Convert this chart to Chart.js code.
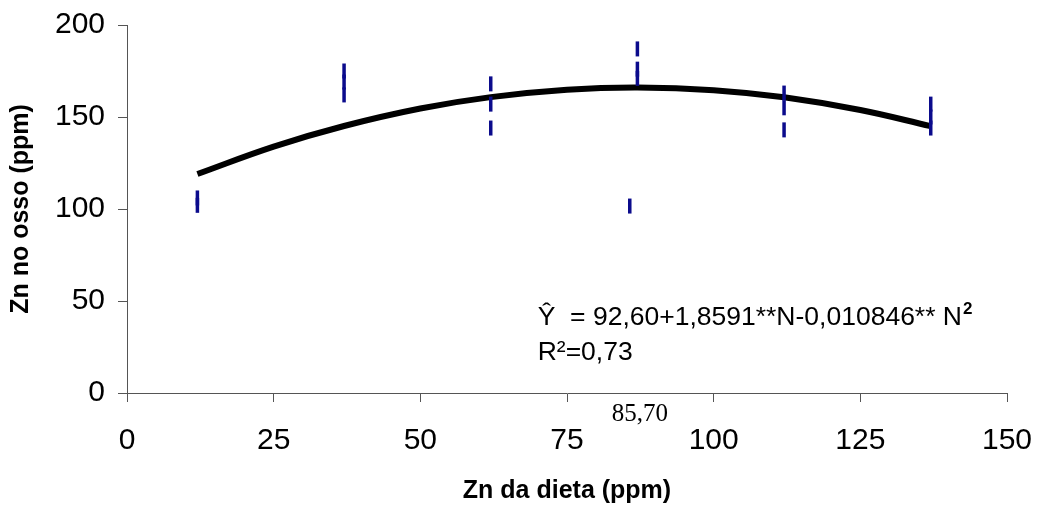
<!DOCTYPE html>
<html>
<head>
    <title>Zn no osso</title>
    <meta charset="UTF-8">
    <script src="https://cdn.jsdelivr.net/npm/chart.js@4.4.1/dist/chart.umd.min.js"></script>
    <style>
        body { margin: 0; background: #fff; }
    </style>
</head>
<body>
    <canvas id="myChart" width="1044" height="506"></canvas>

    <script>
        // observed values (each dash = one observation)
        var obsX = [12, 12, 37, 37, 37, 62, 62, 62, 85.7, 87, 87, 87, 112, 112, 112, 137, 137, 137];
        var obsY = [106, 102, 175, 169, 162, 168, 157, 144, 101.6, 187, 176, 171, 163, 155, 143, 157, 150, 144];

        // fitted curve
        var curveX = [12, 25, 37, 50, 62, 75, 87, 100, 112, 125, 137];
        var curveY = [119, 133.9, 145.1, 154.6, 160.8, 164.8, 166, 164.6, 160.7, 153.8, 145];

        var xTicks = [0, 25, 50, 75, 100, 125, 150];
        var yTicks = [0, 50, 100, 150, 200];

        var equationText = 'Ŷ  = 92,60+1,8591**N-0,010846** N';
        var equationSup = '2';
        var r2Text = 'R²=0,73';
        var vertexLabel = '85,70';
        var vertexX = 85.7;

        var obsPoints = obsX.map(function (x, i) { return { x: x, y: obsY[i] }; });
        var curvePoints = curveX.map(function (x, i) { return { x: x, y: curveY[i] }; });

        var sans = '"Liberation Sans", Arial, sans-serif';

        var textPlugin = {
            id: 'eqText',
            afterDraw: function (chart) {
                var ctx = chart.ctx;
                var xs = chart.scales.x, ys = chart.scales.y;
                var x0 = xs.getPixelForValue(70);
                var y1 = ys.getPixelForValue(41);
                ctx.save();
                ctx.fillStyle = '#000';
                ctx.textBaseline = 'middle';
                ctx.textAlign = 'left';
                ctx.font = '26.5px ' + sans;
                ctx.fillText(equationText, x0, y1);
                var w = ctx.measureText(equationText).width;
                ctx.font = 'bold 17px ' + sans;
                ctx.fillText(equationSup, x0 + w + 1, y1 - 8);
                ctx.font = '26.5px ' + sans;
                ctx.fillText(r2Text, x0, ys.getPixelForValue(22));
                ctx.textAlign = 'center';
                ctx.font = '25px "Liberation Serif", "Times New Roman", serif';
                ctx.fillText(vertexLabel, xs.getPixelForValue(vertexX) + 10, ys.getPixelForValue(0) + 21);
                ctx.restore();
            }
        };

        var ctx = document.getElementById('myChart');
        var myChart = new Chart(ctx, {
            type: 'scatter',
            data: {
                datasets: [{
                    label: 'Observado',
                    data: obsPoints,
                    pointStyle: 'line',
                    rotation: 90,
                    pointRadius: 7.5,
                    pointBorderWidth: 3.5,
                    borderColor: '#0b0b8c',
                    backgroundColor: '#0b0b8c',
                    showLine: false
                }, {
                    label: 'Ajustado',
                    data: curvePoints,
                    showLine: true,
                    tension: 0.4,
                    pointRadius: 0,
                    borderWidth: 6,
                    borderColor: '#000',
                    fill: false
                }]
            },
            options: {
                responsive: false,
                animation: false,
                layout: { padding: { top: 25, right: 37, left: 0, bottom: 0 } },
                plugins: {
                    legend: { display: false },
                    tooltip: { enabled: false }
                },
                scales: {
                    x: {
                        type: 'linear',
                        min: 0,
                        max: 150,
                        afterBuildTicks: function (scale) {
                            scale.ticks = xTicks.map(function (v) { return { value: v }; });
                        },
                        afterFit: function (scale) {
                            scale.height = 113;
                            scale.paddingLeft = 0;
                            scale.paddingRight = 0;
                        },
                        grid: { drawOnChartArea: false, drawTicks: true, tickLength: 9, color: '#555' },
                        border: { color: '#555', width: 1 },
                        ticks: {
                            color: '#000',
                            padding: 21,
                            maxRotation: 0,
                            font: { family: sans, size: 30 }
                        },
                        title: {
                            display: true,
                            text: 'Zn da dieta (ppm)',
                            color: '#000',
                            padding: { top: 0, bottom: 0 },
                            font: { family: sans, size: 25, weight: 'bold' }
                        }
                    },
                    y: {
                        min: 0,
                        max: 200,
                        afterBuildTicks: function (scale) {
                            scale.ticks = yTicks.map(function (v) { return { value: v }; });
                        },
                        afterFit: function (scale) {
                            scale.width = 127;
                            scale.paddingTop = 0;
                            scale.paddingBottom = 0;
                        },
                        grid: { drawOnChartArea: false, drawTicks: true, tickLength: 9, color: '#555' },
                        border: { color: '#555', width: 1 },
                        ticks: {
                            color: '#000',
                            padding: 13,
                            font: { family: sans, size: 30 }
                        },
                        title: {
                            display: true,
                            text: 'Zn no osso (ppm)',
                            color: '#000',
                            padding: { top: 6, bottom: 0 },
                            font: { family: sans, size: 25, weight: 'bold' }
                        }
                    }
                }
            },
            plugins: [textPlugin]
        });
    </script>
</body>
</html>
